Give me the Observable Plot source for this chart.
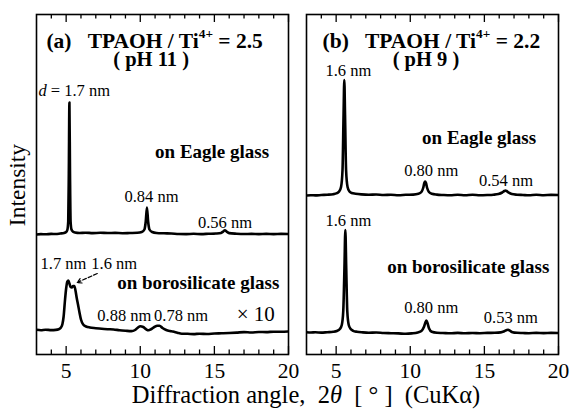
<!DOCTYPE html>
<html><head><meta charset="utf-8">
<script src="https://cdn.jsdelivr.net/npm/d3@7"></script>
<script src="https://cdn.jsdelivr.net/npm/@observablehq/plot@0.6"></script>
<style>
html,body{margin:0;padding:0;background:#fff;}
#chart{width:574px;height:415px;}
</style></head><body><div id="chart"></div>
<script>
// ---- data ----
const panels = ["a", "b"];
const xTicksMajor = [5, 10, 15, 20];
const xTicksMinor = [4, 6, 7, 8, 9, 11, 12, 13, 14, 16, 17, 18, 19];

// [2θ (deg), intensity above own baseline (a.u.)]
const aEagle = [[3.0,-1],[3.3,-0.6],[3.6,-0.8],[4.0,-0.4],[4.3,-0.5],[4.6,0],[4.85,0.5],[5.0,1.5],[5.08,3.5],[5.14,12],[5.18,60],[5.22,131],[5.26,60],[5.3,12],[5.36,4],[5.45,2],[5.6,1],[5.9,0.5],[6.3,0.8],[6.8,0.4],[7.3,0.7],[7.8,0.5],[8.3,0.6],[8.8,0.3],[9.3,0.5],[9.8,0.7],[10.1,1.5],[10.28,4],[10.37,12],[10.45,26],[10.53,12],[10.62,4],[10.8,1.5],[11.1,0.5],[11.6,0.2],[12.1,0],[12.6,-0.5],[13.1,-0.6],[13.6,-0.3],[14.1,-0.6],[14.6,-0.3],[15.1,0],[15.45,0.6],[15.6,2],[15.71,3.3],[15.82,2],[16.0,0.4],[16.5,-0.2],[17,-0.5],[17.5,-0.4],[18,-0.6],[18.5,-0.4],[19,-0.6],[19.5,-0.4],[20,-0.5]];
const aBoro = [[3.0,0.7],[3.3,0.3],[3.6,0.8],[4.0,0.4],[4.3,0.6],[4.5,1.2],[4.65,3],[4.75,6.5],[4.83,14],[4.92,30],[5.0,42],[5.08,49],[5.15,50],[5.22,47],[5.3,43.5],[5.38,43],[5.47,44.5],[5.55,44.5],[5.63,40],[5.72,32],[5.8,26],[5.9,18],[6.0,11],[6.15,6],[6.35,4],[6.6,3],[7.0,2.3],[7.4,1.7],[7.8,1.3],[8.2,1.0],[8.6,0.3],[9.0,-0.2],[9.4,-0.6],[9.65,0.5],[9.85,3],[10.0,4.3],[10.2,3.5],[10.4,1.2],[10.55,0.2],[10.75,1.5],[10.95,3.5],[11.15,4.8],[11.3,4.8],[11.5,2.5],[11.75,0.5],[12.0,-0.5],[12.2,-1],[12.5,-2.2],[12.8,-3.2],[13.2,-3.3],[13.6,-3.6],[14.0,-3.2],[14.5,-3.5],[15.0,-3.0],[15.5,-2.8],[16.0,-2.5],[16.5,-2.1],[17.0,-1.6],[17.5,-2.0],[18.0,-1.5],[18.5,-1.6],[19.0,-1.2],[19.5,-1.3],[20.0,-1.0]];
const bEagle = [[3.0,-0.5],[3.3,-0.2],[3.6,-0.4],[4.0,0],[4.4,0.3],[4.8,0.8],[5.05,1.8],[5.2,3.5],[5.33,8],[5.43,25],[5.5,80],[5.55,115],[5.6,80],[5.67,25],[5.77,8],[5.9,3.5],[6.05,2],[6.3,1.3],[6.7,0.6],[7.2,0.2],[7.7,0.5],[8.2,0],[8.7,0.2],[9.2,-0.2],[9.7,0.2],[10.2,0.4],[10.55,1.2],[10.75,3],[10.87,7],[10.95,12],[11.0,13.5],[11.06,12],[11.14,7],[11.26,3],[11.45,1.2],[11.8,0.4],[12.2,0],[12.7,-0.3],[13.2,0.2],[13.7,-0.2],[14.2,0.2],[14.7,-0.2],[15.2,0],[15.6,0.3],[15.95,1],[16.2,2.5],[16.35,4],[16.42,4.5],[16.5,4],[16.65,2.3],[16.85,0.9],[17.2,0.3],[17.6,0],[18.0,-0.3],[18.5,0.2],[19.0,-0.2],[19.5,0.1],[20.0,0]];
const bBoro = [[3.0,0.8],[3.3,0.5],[3.6,0.7],[4.0,0.4],[4.4,0.8],[4.8,1.2],[5.05,2],[5.25,4],[5.38,8],[5.48,22],[5.56,65],[5.62,103],[5.68,65],[5.75,22],[5.85,8],[5.98,4],[6.15,2.2],[6.4,1.2],[6.8,0.6],[7.2,0.3],[7.7,0.5],[8.2,0],[8.7,-0.2],[9.2,-0.4],[9.7,-0.8],[10.1,-0.4],[10.5,0.5],[10.75,2],[10.92,6],[11.02,10.5],[11.09,12.5],[11.16,10],[11.27,4.5],[11.45,1.2],[11.8,0.2],[12.2,0],[12.7,-0.3],[13.2,0.1],[13.7,-0.3],[14.2,0],[14.7,-0.2],[15.2,0.1],[15.7,0.2],[16.1,0.6],[16.35,1.8],[16.52,3],[16.6,3.2],[16.72,2.3],[16.9,0.8],[17.2,0.2],[17.6,0],[18.0,-0.2],[18.5,0.1],[19.0,-0.1],[19.5,0.1],[20.0,0]];

// vertical offsets of the stacked traces (a.u.)
const seriesNames = ["aEagle", "aBoro", "bEagle", "bBoro"];
const seriesPanel = ["a", "a", "b", "b"];
const seriesOffset = [121, 24, 159.5, 21.5];
const seriesData = [aEagle, aBoro, bEagle, bBoro];

// annotations (data coordinates: 2θ, stacked intensity)
const annotations = [
  {panel:"a", x:3.67, y:307, text:"(a)\u00a0\u00a0\u00a0TPAOH / Ti^{4+} = 2.5", kind:"title", anchor:"start"},
  {panel:"a", x:10.73, y:289, text:"( pH 11 )", kind:"ph", anchor:"middle"},
  {panel:"a", x:3.13, y:259, text:"*d* = 1.7 nm", kind:"peak", anchor:"start"},
  {panel:"a", x:11.0, y:197, text:"on Eagle glass", kind:"sub", anchor:"start"},
  {panel:"a", x:8.93, y:153, text:"0.84 nm", kind:"peak", anchor:"start"},
  {panel:"a", x:13.89, y:127, text:"0.56 nm", kind:"peak", anchor:"start"},
  {panel:"a", x:3.27, y:86, text:"1.7 nm", kind:"peak", anchor:"start"},
  {panel:"a", x:6.70, y:86, text:"1.6 nm", kind:"peak", anchor:"start"},
  {panel:"a", x:8.44, y:66, text:"on borosilicate glass", kind:"sub", anchor:"start"},
  {panel:"a", x:7.10, y:34, text:"0.88 nm", kind:"peak", anchor:"start"},
  {panel:"a", x:10.93, y:34, text:"0.78 nm", kind:"peak", anchor:"start"},
  {panel:"a", x:16.51, y:34, text:"\u00d7 10", kind:"scale", anchor:"start"},
  {panel:"b", x:4.08, y:307, text:"(b)\u00a0\u00a0\u00a0TPAOH / Ti^{4+} = 2.2", kind:"title", anchor:"start"},
  {panel:"b", x:11.06, y:289, text:"( pH 9 )", kind:"ph", anchor:"middle"},
  {panel:"b", x:4.28, y:279, text:"1.6 nm", kind:"peak", anchor:"start"},
  {panel:"b", x:10.80, y:211, text:"on Eagle glass", kind:"sub", anchor:"start"},
  {panel:"b", x:9.59, y:179, text:"0.80 nm", kind:"peak", anchor:"start"},
  {panel:"b", x:14.63, y:169, text:"0.54 nm", kind:"peak", anchor:"start"},
  {panel:"b", x:4.28, y:129, text:"1.6 nm", kind:"peak", anchor:"start"},
  {panel:"b", x:8.44, y:82, text:"on borosilicate glass", kind:"sub", anchor:"start"},
  {panel:"b", x:9.59, y:42, text:"0.80 nm", kind:"peak", anchor:"start"},
  {panel:"b", x:14.96, y:32, text:"0.53 nm", kind:"peak", anchor:"start"}
];
const arrows = [{panel:"a", x1:7.1, y1:81, x2:5.75, y2:72}];

// ---- build tables ----
const rows = seriesData.flatMap((arr, i) =>
  arr.map(([x, v]) => ({panel: seriesPanel[i], series: seriesNames[i], x, y: v + seriesOffset[i]})));
const majorRows = panels.flatMap(p => xTicksMajor.map(x => ({panel: p, x})));
const minorRows = panels.flatMap(p => xTicksMinor.map(x => ({panel: p, x})));

const serif = "Liberation Serif, Times New Roman, Times, serif";
const textMark = (data, size, weight, anchor) => Plot.text(data, {
  fx: "panel", x: "x", y: "y", text: "text", textAnchor: anchor, lineAnchor: "bottom",
  fontFamily: serif, fontSize: size, fontWeight: weight, fill: "black"
});
const ofKind = (k) => annotations.filter(d => d.kind === k);

const plot = Plot.plot({
  width: 574, height: 415,
  marginLeft: 36, marginRight: 15, marginTop: 14, marginBottom: 61,
  x: {domain: [3, 20]},
  y: {domain: [0, 340], axis: null},
  fx: {domain: panels, paddingInner: 0.066, paddingOuter: 0, axis: null},
  style: {fontFamily: serif, background: "white", color: "black"},
  marks: [
    Plot.line(rows, {fx: "panel", x: "x", y: "y", z: "series", stroke: "black", strokeWidth: 2.6, curve: "monotone-x", clip: true}),
    Plot.tickX(majorRows, {fx: "panel", x: "x", insetTop: 332, stroke: "black", strokeWidth: 1.3}),
    Plot.tickX(minorRows, {fx: "panel", x: "x", insetTop: 335.5, stroke: "black", strokeWidth: 1.3}),
    Plot.tickX(majorRows, {fx: "panel", x: "x", insetBottom: 332, stroke: "black", strokeWidth: 1.3}),
    Plot.tickX(minorRows, {fx: "panel", x: "x", insetBottom: 335.5, stroke: "black", strokeWidth: 1.3}),
    Plot.frame({stroke: "black", strokeWidth: 1.6}),
    Plot.axisX({ticks: xTicksMajor, tickSize: 0, tickPadding: 8.5, fontSize: 21.5, fontFamily: serif, label: null, tickFormat: d => String(d)}),
    textMark(ofKind("title"), 21.5, "bold", "start"),
    textMark(ofKind("ph"), 20.5, "bold", "middle"),
    textMark(ofKind("sub"), 19, "bold", "start"),
    textMark(ofKind("peak"), 16.5, "normal", "start"),
    textMark(ofKind("scale"), 21, "normal", "start"),
    Plot.arrow(arrows, {fx: "panel", x1: "x1", y1: "y1", x2: "x2", y2: "y2", stroke: "black", strokeWidth: 1.2, headLength: 6, strokeDasharray: "4,2"})
  ]
});

document.getElementById("chart").append(plot);

// rich text: ^{sup} and *italic*
function rich(el) {
  const s = el.textContent;
  if (!/\^\{|\*/.test(s)) return;
  const F = parseFloat(getComputedStyle(el).fontSize);
  const parts = s.split(/(\^\{[^}]*\}|\*[^*]+\*)/).filter(p => p);
  el.textContent = "";
  let shift = 0;
  for (const p of parts) {
    const t = document.createElementNS("http://www.w3.org/2000/svg", "tspan");
    if (p.startsWith("^{")) {
      t.textContent = p.slice(2, -1);
      t.setAttribute("font-size", (0.62 * F).toFixed(1));
      const d = -0.45 * F;
      t.setAttribute("dy", d.toFixed(1));
      shift += d;
    } else {
      if (p.startsWith("*")) { t.textContent = p.slice(1, -1); t.setAttribute("font-style", "italic"); }
      else t.textContent = p;
      if (shift) { t.setAttribute("dy", (-shift).toFixed(1)); shift = 0; }
    }
    el.appendChild(t);
  }
}
d3.select(plot).selectAll("text").each(function () { rich(this); });

// shared axis titles
const svg = d3.select(plot);
const xl = svg.append("text")
  .attr("x", 306).attr("y", 403).attr("text-anchor", "middle")
  .attr("font-family", serif).attr("font-size", 24.5).attr("fill", "black");
xl.append("tspan").text("Diffraction angle,\u00a0\u00a02");
xl.append("tspan").attr("font-style", "italic").text("\u03b8");
xl.append("tspan").text("\u00a0\u00a0[\u00a0\u00b0\u00a0]\u00a0\u00a0(CuK\u03b1)");
svg.append("text")
  .attr("transform", "translate(25,185) rotate(-90)").attr("text-anchor", "middle")
  .attr("font-family", serif).attr("font-size", 23.5).attr("fill", "black")
  .text("Intensity");
</script>
</body></html>
